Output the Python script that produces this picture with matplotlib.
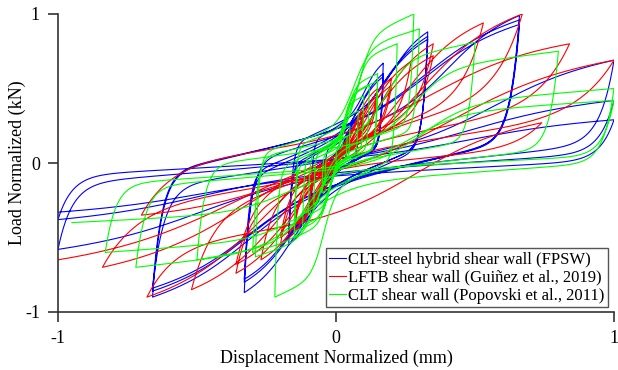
import numpy as np
import matplotlib.pyplot as plt

plt.rcParams['font.family'] = ['Liberation Serif', 'DejaVu Serif']

# cycle peaks: displacement amplitude (+ / -) and peak load (+ / -)
fpsw_disp_pos = [0.04, 0.04, 0.08, 0.08, 0.08, 0.17, 0.17, 0.17, 0.33, 0.33, 0.33, 0.66, 0.66, 0.66, 1.0, 1.0, 1.0]
fpsw_disp_neg = [0.04, 0.04, 0.09, 0.09, 0.09, 0.17, 0.17, 0.17, 0.33, 0.33, 0.33, 0.66, 0.66, 0.66, 1.0, 1.0, 1.0]
fpsw_load_pos = [0.15, 0.13, 0.32, 0.30, 0.28, 0.67, 0.60, 0.58, 0.88, 0.85, 0.83, 0.99, 0.96, 0.93, 0.69, 0.42, 0.29]
fpsw_load_neg = [-0.12, -0.11, -0.32, -0.30, -0.28, -0.55, -0.50, -0.48, -0.87, -0.80, -0.78, -0.90, -0.86, -0.84, -0.58, -0.38, -0.33]

lftb_disp_pos = [0.05, 0.05, 0.10, 0.10, 0.15, 0.15, 0.20, 0.20, 0.27, 0.35, 0.35, 0.53, 0.67, 0.74, 0.84, 1.0]
lftb_disp_neg = [0.05, 0.05, 0.10, 0.10, 0.15, 0.15, 0.20, 0.20, 0.27, 0.36, 0.36, 0.52, 0.68, 0.70, 0.84, 1.0]
lftb_load_pos = [0.20, 0.18, 0.35, 0.32, 0.50, 0.45, 0.57, 0.52, 0.68, 0.80, 0.72, 0.94, 1.00, 0.27, 0.80, 0.69]
lftb_load_neg = [-0.20, -0.18, -0.30, -0.28, -0.45, -0.42, -0.55, -0.50, -0.65, -0.74, -0.68, -0.85, -0.90, -0.35, -0.70, -0.65]

clt_disp_pos = [0.04, 0.05, 0.08, 0.10, 0.12, 0.15, 0.15, 0.22, 0.28, 0.30, 0.50, 0.80, 1.0, 1.0]
clt_disp_neg = [0.04, 0.05, 0.08, 0.10, 0.12, 0.15, 0.15, 0.22, 0.29, 0.30, 0.50, 0.72, 0.83, 0.95]
clt_load_pos = [0.18, 0.25, 0.35, 0.45, 0.52, 0.60, 0.55, 0.80, 1.00, 0.90, 0.81, 0.75, 0.50, 0.42]
clt_load_neg = [-0.15, -0.20, -0.28, -0.35, -0.42, -0.50, -0.46, -0.90, -0.63, -0.60, -0.65, -0.70, -0.60, -0.40]

labels = ["CLT-steel hybrid shear wall (FPSW)",
          "LFTB shear wall (Guiñez et al., 2019)",
          "CLT shear wall (Popovski et al., 2011)"]
colors = ["#0000ff", "#ff0000", "#00ff00"]

# loop shape per wall type: unload share, pinch share, unload width, rise width, rise centre
shapes = [(0.44, 0.30, 0.025, 0.09, 0.74),
          (0.30, 0.25, 0.07, 0.11, 0.68),
          (0.45, 0.22, 0.02, 0.05, 0.60)]


def branch(x0, y0, x1, y1, shape, n=300):
    a, b, wu, wr, tc = shape
    t = np.linspace(0, 1, n)
    dy = y1 - y0
    sig = 1 / (1 + np.exp(-(t - tc) / wr))
    sig = (sig - sig[0]) / (sig[-1] - sig[0])
    y = y0 + dy * (a + b * t) - a * dy * np.exp(-t / wu) + (1 - a - b) * dy * sig
    x = x0 + (x1 - x0) * t
    return x, y


def hysteresis(dp, dn, lp, ln, shape):
    xs, ys = [np.array([0.0])], [np.array([0.0])]
    x_prev, y_prev = 0.0, 0.0
    for i in range(len(dp)):
        x, y = branch(x_prev, y_prev, dp[i], lp[i], shape)
        xs.append(x); ys.append(y)
        x, y = branch(dp[i], lp[i], -dn[i], ln[i], shape)
        xs.append(x); ys.append(y)
        x_prev, y_prev = -dn[i], ln[i]
    return np.concatenate(xs), np.concatenate(ys)


fig = plt.figure(figsize=(6.18, 3.70), dpi=100)
ax = fig.add_axes([58 / 618, 1 - 312 / 370, 556 / 618, 298 / 370])

series = [(fpsw_disp_pos, fpsw_disp_neg, fpsw_load_pos, fpsw_load_neg),
          (lftb_disp_pos, lftb_disp_neg, lftb_load_pos, lftb_load_neg),
          (clt_disp_pos, clt_disp_neg, clt_load_pos, clt_load_neg)]
for (dp, dn, lp, ln), shape, c, lab in zip(series, shapes, colors, labels):
    x, y = hysteresis(dp, dn, lp, ln, shape)
    ax.plot(x, y, color=c, lw=0.8, label=lab)

ax.set_xlim(-1, 1)
ax.set_ylim(-1, 1)
ax.set_xticks([-1, 0, 1], ["-1", "0", "1"])
ax.set_yticks([-1, 0, 1], ["-1", "0", "1"])
ax.spines['top'].set_visible(False)
ax.spines['right'].set_visible(False)
for s in ['left', 'bottom']:
    ax.spines[s].set_color('#333333')
    ax.spines[s].set_linewidth(1.2)
ax.tick_params(direction='out', length=7, width=1.2, color='#333333', labelsize=13, pad=6)
ax.set_xlabel("Displacement Normalized (mm)", fontsize=13, labelpad=2)
ax.set_ylabel("Load Normalized (kN)", fontsize=13)
ax.yaxis.set_label_coords(-0.058, 0.5)

leg = ax.legend(loc='lower right', bbox_to_anchor=(0.989, 0.017), borderaxespad=0,
                fontsize=12, handlelength=1.0, handletextpad=0.15, borderpad=0.2,
                labelspacing=0.12, fancybox=False, framealpha=1, edgecolor='#555555')
leg.get_frame().set_linewidth(1.0)

fig.savefig("out.png", dpi=100)
